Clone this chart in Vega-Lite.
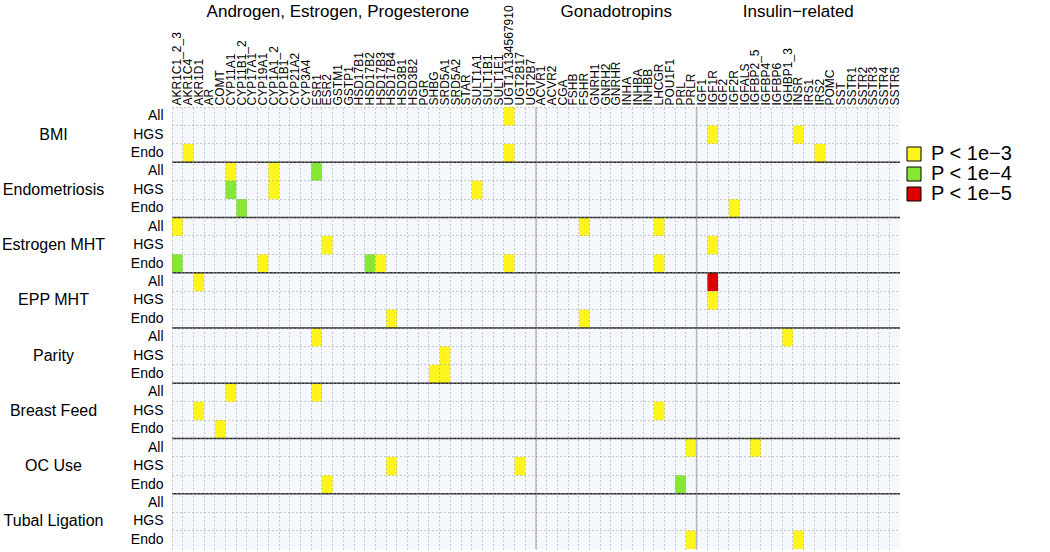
{
  "$schema": "https://vega.github.io/schema/vega-lite/v6.json",
  "width": 728,
  "height": 442,
  "autosize": {"type": "none"},
  "padding": {"left": 172, "top": 107, "right": 150, "bottom": 3},
  "config": {
    "font": "Liberation Sans",
    "view": {"fill": "#f4f8fd", "stroke": null},
    "axis": {"labelColor": "black", "labelFont": "Liberation Sans", "title": null, "labelLimit": 0}
  },
  "datasets": {
    "cells": [
      {"row": "BMI|All", "gene": "UGT1A134567910", "p": "P < 1e−3"},
      {"row": "BMI|HGS", "gene": "IGF1R", "p": "P < 1e−3"},
      {"row": "BMI|HGS", "gene": "INSR", "p": "P < 1e−3"},
      {"row": "BMI|Endo", "gene": "AKR1C4", "p": "P < 1e−3"},
      {"row": "BMI|Endo", "gene": "UGT1A134567910", "p": "P < 1e−3"},
      {"row": "BMI|Endo", "gene": "IRS2", "p": "P < 1e−3"},
      {"row": "Endometriosis|All", "gene": "CYP11A1", "p": "P < 1e−3"},
      {"row": "Endometriosis|All", "gene": "CYP1A1_2", "p": "P < 1e−3"},
      {"row": "Endometriosis|All", "gene": "ESR1", "p": "P < 1e−4"},
      {"row": "Endometriosis|HGS", "gene": "CYP11A1", "p": "P < 1e−4"},
      {"row": "Endometriosis|HGS", "gene": "CYP1A1_2", "p": "P < 1e−3"},
      {"row": "Endometriosis|HGS", "gene": "SULT1A1", "p": "P < 1e−3"},
      {"row": "Endometriosis|Endo", "gene": "CYP11B1_2", "p": "P < 1e−4"},
      {"row": "Endometriosis|Endo", "gene": "IGF2R", "p": "P < 1e−3"},
      {"row": "Estrogen MHT|All", "gene": "AKR1C1_2_3", "p": "P < 1e−3"},
      {"row": "Estrogen MHT|All", "gene": "FSHR", "p": "P < 1e−3"},
      {"row": "Estrogen MHT|All", "gene": "LHCGR", "p": "P < 1e−3"},
      {"row": "Estrogen MHT|HGS", "gene": "ESR2", "p": "P < 1e−3"},
      {"row": "Estrogen MHT|HGS", "gene": "IGF1R", "p": "P < 1e−3"},
      {"row": "Estrogen MHT|Endo", "gene": "AKR1C1_2_3", "p": "P < 1e−4"},
      {"row": "Estrogen MHT|Endo", "gene": "CYP19A1", "p": "P < 1e−3"},
      {"row": "Estrogen MHT|Endo", "gene": "HSD17B2", "p": "P < 1e−4"},
      {"row": "Estrogen MHT|Endo", "gene": "HSD17B3", "p": "P < 1e−3"},
      {"row": "Estrogen MHT|Endo", "gene": "UGT1A134567910", "p": "P < 1e−3"},
      {"row": "Estrogen MHT|Endo", "gene": "LHCGR", "p": "P < 1e−3"},
      {"row": "EPP MHT|All", "gene": "AKR1D1", "p": "P < 1e−3"},
      {"row": "EPP MHT|All", "gene": "IGF1R", "p": "P < 1e−5"},
      {"row": "EPP MHT|HGS", "gene": "IGF1R", "p": "P < 1e−3"},
      {"row": "EPP MHT|Endo", "gene": "HSD17B4", "p": "P < 1e−3"},
      {"row": "EPP MHT|Endo", "gene": "FSHR", "p": "P < 1e−3"},
      {"row": "Parity|All", "gene": "ESR1", "p": "P < 1e−3"},
      {"row": "Parity|All", "gene": "IGHBP1_3", "p": "P < 1e−3"},
      {"row": "Parity|HGS", "gene": "SRD5A1", "p": "P < 1e−3"},
      {"row": "Parity|Endo", "gene": "SHBG", "p": "P < 1e−3"},
      {"row": "Parity|Endo", "gene": "SRD5A1", "p": "P < 1e−3"},
      {"row": "Breast Feed|All", "gene": "CYP11A1", "p": "P < 1e−3"},
      {"row": "Breast Feed|All", "gene": "ESR1", "p": "P < 1e−3"},
      {"row": "Breast Feed|HGS", "gene": "AKR1D1", "p": "P < 1e−3"},
      {"row": "Breast Feed|HGS", "gene": "LHCGR", "p": "P < 1e−3"},
      {"row": "Breast Feed|Endo", "gene": "COMT", "p": "P < 1e−3"},
      {"row": "OC Use|All", "gene": "PRLR", "p": "P < 1e−3"},
      {"row": "OC Use|All", "gene": "IGFBP2_5", "p": "P < 1e−3"},
      {"row": "OC Use|HGS", "gene": "HSD17B4", "p": "P < 1e−3"},
      {"row": "OC Use|HGS", "gene": "UGT2B17", "p": "P < 1e−3"},
      {"row": "OC Use|Endo", "gene": "ESR2", "p": "P < 1e−3"},
      {"row": "OC Use|Endo", "gene": "PRL", "p": "P < 1e−4"},
      {"row": "Tubal Ligation|Endo", "gene": "PRLR", "p": "P < 1e−3"},
      {"row": "Tubal Ligation|Endo", "gene": "INSR", "p": "P < 1e−3"}
    ],
    "vsep": [{"gene": "ACVR1"}, {"gene": "IGF1"}],
    "hsep": [
      {"row": "Endometriosis|All"}, {"row": "Estrogen MHT|All"}, {"row": "EPP MHT|All"},
      {"row": "Parity|All"}, {"row": "Breast Feed|All"}, {"row": "OC Use|All"}, {"row": "Tubal Ligation|All"}
    ]
  },
  "layer": [
    {
      "data": {"name": "cells"},
      "mark": {"type": "rect", "opacity": 0},
      "encoding": {
        "x": {
          "field": "gene", "type": "nominal",
          "scale": {"type": "band", "paddingInner": 0, "paddingOuter": 0,
            "domain": ["AKR1C1_2_3","AKR1C4","AKR1D1","AR","COMT","CYP11A1","CYP11B1_2","CYP17A1","CYP19A1","CYP1A1_2","CYP1B1","CYP21A2","CYP3A4","ESR1","ESR2","GSTM1","GSTP1","HSD17B1","HSD17B2","HSD17B3","HSD17B4","HSD3B1","HSD3B2","PGR","SHBG","SRD5A1","SRD5A2","STAR","SULT1A1","SULT1B1","SULT1E1","UGT1A134567910","UGT2B17","UGT2B7","ACVR1","ACVR2","CGA","FSHB","FSHR","GNRH1","GNRH2","GNRHR","INHA","INHBA","INHBB","LHCGR","POU1F1","PRL","PRLR","IGF1","IGF1R","IGF2","IGF2R","IGFALS","IGFBP2_5","IGFBP4","IGFBP6","IGHBP1_3","INSR","IRS1","IRS2","POMC","SST","SSTR1","SSTR2","SSTR3","SSTR4","SSTR5"]},
          "axis": {"orient": "bottom", "grid": true, "gridDash": [1, 3], "gridColor": "#9a9a9a", "gridWidth": 1, "labels": false, "ticks": false, "domain": false, "bandPosition": 0}
        },
        "y": {
          "field": "row", "type": "nominal",
          "scale": {"type": "band", "paddingInner": 0, "paddingOuter": 0,
            "domain": ["BMI|All","BMI|HGS","BMI|Endo","Endometriosis|All","Endometriosis|HGS","Endometriosis|Endo","Estrogen MHT|All","Estrogen MHT|HGS","Estrogen MHT|Endo","EPP MHT|All","EPP MHT|HGS","EPP MHT|Endo","Parity|All","Parity|HGS","Parity|Endo","Breast Feed|All","Breast Feed|HGS","Breast Feed|Endo","OC Use|All","OC Use|HGS","OC Use|Endo","Tubal Ligation|All","Tubal Ligation|HGS","Tubal Ligation|Endo"]},
          "axis": {"orient": "left", "grid": true, "gridDash": [1, 3], "gridColor": "#9a9a9a", "gridWidth": 1, "labels": false, "ticks": false, "domain": false, "bandPosition": 0}
        }
      }
    },
    {
      "data": {"name": "cells"},
      "mark": {"type": "rect"},
      "encoding": {
        "x": {
          "field": "gene", "type": "nominal",
          "axis": {"orient": "top", "labelAngle": -90, "labelAlign": "left", "labelBaseline": "middle", "labelFontSize": 12, "labelPadding": 2, "ticks": false, "domain": false, "grid": false, "labelOverlap": false, "labelBound": false}
        },
        "y": {
          "field": "row", "type": "nominal",
          "axis": {"orient": "left", "labelExpr": "split(datum.value, '|')[1]", "labelFontSize": 14, "labelPadding": 9, "ticks": false, "domain": false, "grid": false, "labelOverlap": false}
        },
        "color": {
          "field": "p", "type": "nominal",
          "scale": {"domain": ["P < 1e−3", "P < 1e−4", "P < 1e−5"], "range": ["#fff51c", "#86e832", "#dc0000"]},
          "legend": {
            "orient": "none", "legendX": 732, "legendY": 37, "title": null, "padding": 0,
            "symbolType": "square", "symbolSize": 196, "symbolStrokeColor": "black", "symbolStrokeWidth": 1,
            "labelFontSize": 20, "labelOffset": 7, "rowPadding": 0, "labelColor": "black", "labelLimit": 0,
            "encode": {"symbols": {"update": {"stroke": {"value": "black"}, "strokeWidth": {"value": 1}}}}
          }
        }
      }
    },
    {
      "data": {"name": "cells"},
      "mark": {"type": "rect", "opacity": 0},
      "encoding": {
        "x": {
          "field": "gene", "type": "nominal",
          "axis": {"orient": "top", "labelAngle": 0, "labelAlign": "center", "labelBaseline": "alphabetic", "labelFontSize": 17, "labelPadding": 91, "ticks": false, "domain": false, "grid": false, "labelOverlap": false, "labelBound": false,
            "labelExpr": "datum.value == 'GSTM1' ? 'Androgen, Estrogen, Progesterone' : datum.value == 'GNRHR' ? 'Gonadotropins' : datum.value == 'INSR' ? 'Insulin−related' : ''"}
        },
        "y": {
          "field": "row", "type": "nominal",
          "axis": {"orient": "left", "labelAlign": "center", "labelBaseline": "middle", "labelFontSize": 16, "labelPadding": 119, "ticks": false, "domain": false, "grid": false, "labelOverlap": false,
            "labelExpr": "split(datum.value, '|')[1] == 'HGS' ? split(datum.value, '|')[0] : ''"}
        }
      }
    },
    {
      "data": {"name": "vsep"},
      "mark": {"type": "rule", "color": "#bdbdbd", "strokeWidth": 1.6},
      "encoding": {
        "x": {"field": "gene", "type": "nominal", "bandPosition": 0, "axis": null}
      }
    },
    {
      "data": {"name": "hsep"},
      "mark": {"type": "rule", "color": "#2b2b2b", "strokeWidth": 1.6},
      "encoding": {
        "y": {"field": "row", "type": "nominal", "bandPosition": 0, "axis": null}
      }
    }
  ],
  "resolve": {"axis": {"x": "independent", "y": "independent"}}
}
